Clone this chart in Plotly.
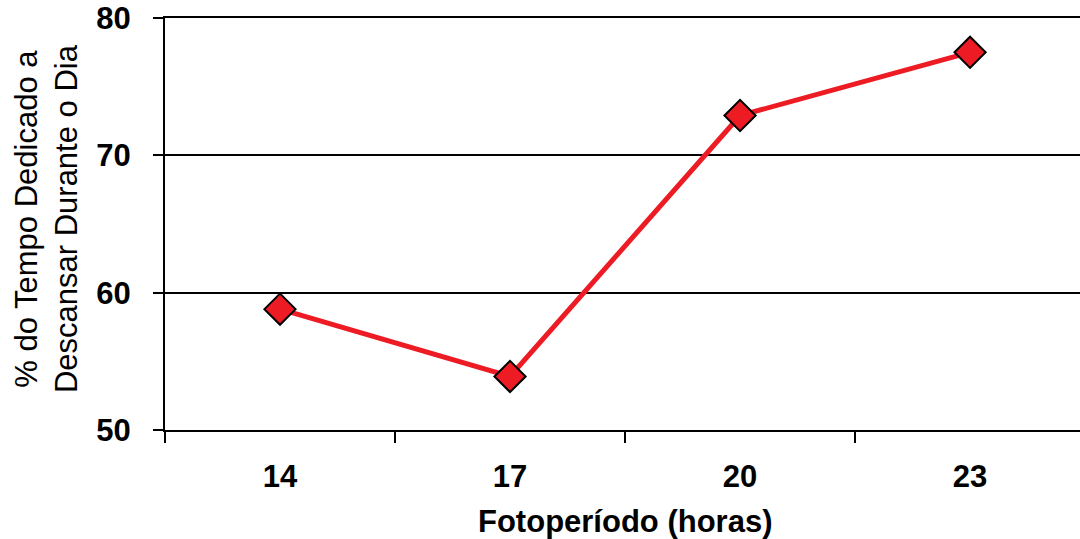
import plotly.graph_objects as go

categories = ["14", "17", "20", "23"]
values = [58.8, 53.9, 72.9, 77.5]
y_ticks = [50, 60, 70, 80]

RED = "#ED1C24"
FONT = "Liberation Sans, Arial, sans-serif"

fig = go.Figure()
fig.add_trace(go.Scatter(
    x=categories, y=values, mode="lines+markers",
    line=dict(color=RED, width=5),
    marker=dict(symbol="diamond", size=24, color=RED, line=dict(color="black", width=2)),
    cliponaxis=False,
))

fig.update_layout(
    width=1080, height=539,
    margin=dict(l=165, r=0, t=18, b=109),
    plot_bgcolor="white", paper_bgcolor="white",
    showlegend=False,
    font=dict(family=FONT, color="black"),
    xaxis=dict(
        type="category", range=[-0.5, 3.478], automargin=False,
        tickson="boundaries", ticks="outside", ticklen=11, tickwidth=2, tickcolor="black",
        showline=True, linecolor="black", linewidth=2, mirror=True,
        showgrid=False, zeroline=False,
        tickfont=dict(family=FONT, size=31, color="black", weight="bold"),
        ticklabelstandoff=18,
    ),
    yaxis=dict(
        range=[50, 80], tickvals=y_ticks, automargin=False,
        ticks="outside", ticklen=10, tickwidth=2, tickcolor="black",
        showline=True, linecolor="black", linewidth=2,
        showgrid=True, gridcolor="black", gridwidth=1.5, zeroline=False,
        tickfont=dict(family=FONT, size=31, color="black", weight="bold"),
        ticklabelstandoff=16, ticklabeloverflow="allow",
    ),
    annotations=[
        dict(text="% do Tempo Dedicado a<br>Descansar Durante o Dia",
             xref="paper", yref="paper", x=-0.130, y=0.512,
             xanchor="center", yanchor="middle", textangle=-90, showarrow=False,
             font=dict(family=FONT, size=31, color="black")),
        dict(text="Fotoperíodo (horas)",
             xref="paper", yref="paper", x=0.503, y=-0.221,
             xanchor="center", yanchor="middle", showarrow=False,
             font=dict(family=FONT, size=31, color="black", weight="bold")),
    ],
)

fig.write_html("out.html", config={"displayModeBar": False},
               post_script="document.body.style.margin='0';")
